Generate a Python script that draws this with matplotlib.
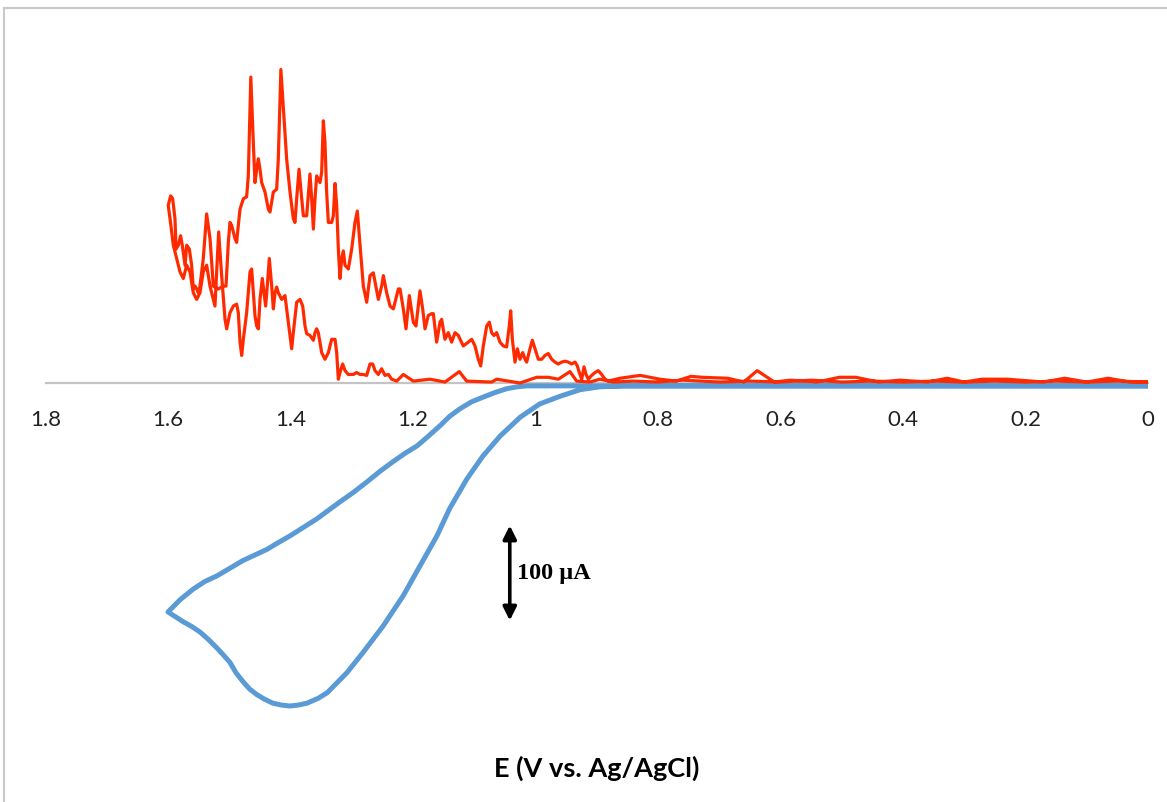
"""ECL / cyclic voltammogram overlay, redrawn with matplotlib."""

import matplotlib
matplotlib.use("Agg")
import matplotlib.pyplot as plt
from matplotlib.patches import Rectangle

# ---- data --------------------------------------------------------------
# CV current, uA (negative = anodic as plotted), forward scan 0 -> 1.6 V
cv_fwd_E = [0.000, 0.200, 0.400, 0.600, 0.802, 0.857, 0.895, 0.927, 0.960,
            0.993, 1.025, 1.058, 1.086, 1.112, 1.140, 1.161, 1.189, 1.216,
            1.249, 1.282, 1.308, 1.340, 1.355, 1.373, 1.387, 1.401, 1.415,
            1.429, 1.442, 1.455, 1.467, 1.478, 1.489, 1.499, 1.510, 1.520,
            1.534, 1.548, 1.562, 1.576, 1.588, 1.600]
cv_fwd_I = [-3, -3, -3, -3, -3, -3, -4, -7, -14,
            -22, -36, -56, -77, -101, -132, -161, -193, -224,
            -256, -284, -305, -326, -332, -337, -339, -340, -339,
            -337, -333, -328, -322, -314, -305, -294, -286, -279,
            -270, -262, -256, -251, -246, -241]
# reverse scan 1.6 -> 0 V
cv_rev_E = [1.600, 1.580, 1.559, 1.540, 1.520, 1.499, 1.478, 1.458, 1.438,
            1.420, 1.401, 1.379, 1.357, 1.338, 1.319, 1.297, 1.275, 1.254,
            1.233, 1.213, 1.193, 1.175, 1.156, 1.140, 1.123, 1.105, 1.086,
            1.066, 1.047, 1.030, 1.014, 0.976, 0.900, 0.600, 0.300, 0.000]
cv_rev_I = [-241, -228, -217, -209, -203, -195, -187, -181, -175,
            -168, -161, -152, -143, -134, -125, -115, -104, -93,
            -83, -74, -66, -56, -45, -35, -27, -20, -15,
            -10, -6, -4, -3, -3, -3, -3, -3, -3]

# ECL intensity (a.u., drawn on the same axis), forward scan
ecl_fwd_E = [0.000, 0.030, 0.065, 0.100, 0.136, 0.170, 0.230, 0.271, 0.300,
             0.328, 0.360, 0.405, 0.440, 0.477, 0.504, 0.540, 0.584, 0.610,
             0.638, 0.660, 0.686, 0.728, 0.746, 0.770, 0.797, 0.829, 0.862,
             0.8811, 0.8865, 0.8920, 0.8975, 0.9029, 0.9083, 0.9138, 0.9175,
             0.9208, 0.9246, 0.9285, 0.9317, 0.9355, 0.9410, 0.9464, 0.9518,
             0.9573, 0.9628, 0.9682, 0.9736, 0.9791, 0.9845, 0.9899, 0.9954,
             1.0008, 1.0052, 1.0090, 1.0144, 1.0171, 1.0209, 1.0253, 1.0296,
             1.0335, 1.0378, 1.0405, 1.0428, 1.0471, 1.0526, 1.0580, 1.0634,
             1.0678, 1.0716, 1.0754, 1.0797, 1.0852, 1.0895, 1.0934, 1.0988,
             1.1042, 1.1097, 1.1179, 1.1260, 1.1314, 1.1369, 1.1424, 1.1478,
             1.1532, 1.1559, 1.1614, 1.1668, 1.1696, 1.1750, 1.1804, 1.1842,
             1.1886, 1.1951, 1.1995, 1.2060, 1.2114, 1.2158, 1.2212,
             1.2239, 1.2321, 1.2375, 1.2430, 1.2484, 1.2512, 1.2566, 1.2648,
             1.2702, 1.2756, 1.2811, 1.2865, 1.2909, 1.2947, 1.3001, 1.3056,
             1.3110, 1.3137, 1.3164, 1.3192, 1.3219, 1.3246, 1.3273, 1.3301,
             1.3328, 1.3382, 1.3410, 1.3437, 1.3464, 1.3491, 1.3518, 1.3573,
             1.3600, 1.3627, 1.3654, 1.3682, 1.3736, 1.3790, 1.3817, 1.3861,
             1.3899, 1.3927, 1.3954, 1.4008, 1.4063, 1.4117, 1.4157, 1.4199,
             1.4226, 1.4280, 1.4335, 1.4362, 1.4416, 1.4471, 1.4498, 1.4525,
             1.4552, 1.4580, 1.4607, 1.4648, 1.4689, 1.4716, 1.4770, 1.4824,
             1.4852, 1.4879, 1.4906, 1.4961, 1.4988, 1.5015, 1.5053, 1.5097,
             1.5178, 1.5260, 1.5314, 1.5369, 1.5424, 1.5478, 1.5505, 1.5532,
             1.5559, 1.5587, 1.5614, 1.5652, 1.5695, 1.5722, 1.5767, 1.5794,
             1.5832, 1.5869, 1.5886, 1.5924, 1.5957, 1.5996]
ecl_fwd_I = [1, 1, 5, 1, 5, 1, 4, 4, 1,
             5, 1, 3, 1, 6, 6, 1, 3, 1,
             13, 1, 5, 6, 7, 2, 4, 8, 5,
             2, 4, 9, 13, 11, 8, 4, 9,
             17, 4, 11, 18, 22, 20, 22, 23,
             22, 20, 22, 25, 31, 29, 25, 25,
             36, 45, 36, 22, 25, 32, 25, 36,
             22, 46, 76, 60, 38, 39, 43, 53,
             50, 53, 64, 60, 39, 18, 25, 39,
             46, 43, 39, 50, 53, 43, 53, 46,
             67, 64, 43, 73, 73, 71, 57, 78,
             97, 60, 64, 92, 57, 78, 99,
             99, 78, 81, 95, 113, 102, 88, 116,
             113, 85, 102, 145, 181, 169, 141, 120,
             124, 139, 131, 110, 141, 187, 210, 176,
             169, 169, 201, 253, 276, 222, 211, 218,
             194, 162, 194, 220, 176, 176, 194, 225,
             194, 169, 173, 201, 236, 289, 330, 236,
             204, 201, 180, 183, 201, 211, 225, 236,
             225, 211, 253, 322, 218, 196, 194, 183,
             166, 148, 152, 166, 169, 148, 102, 102,
             99, 102, 152, 178, 131, 102, 95, 99,
             102, 99, 124, 141, 145, 124, 145, 155,
             145, 141, 173, 194, 197, 187]
# ECL intensity, reverse scan
ecl_rev_E = [1.5996, 1.5967, 1.5913, 1.5859, 1.5804, 1.5750, 1.5695, 1.5641,
             1.5587, 1.5532, 1.5478, 1.5424, 1.5369, 1.5314, 1.5233, 1.5173,
             1.5124, 1.5069, 1.5042, 1.4988, 1.4933, 1.4879, 1.4852, 1.4824,
             1.4797, 1.4770, 1.4716, 1.4661, 1.4634, 1.4607, 1.4580, 1.4552,
             1.4525, 1.4498, 1.4460, 1.4433, 1.4406, 1.4379, 1.4346, 1.4307,
             1.4280, 1.4253, 1.4226, 1.4199, 1.4144, 1.4090, 1.4036, 1.3981,
             1.3954, 1.3899, 1.3845, 1.3801, 1.3763, 1.3736, 1.3682, 1.3627,
             1.3600, 1.3573, 1.3546, 1.3491, 1.3437, 1.3382, 1.3328, 1.3273,
             1.3246, 1.3219, 1.3192, 1.3148, 1.3110, 1.3056, 1.2974, 1.2920,
             1.2865, 1.2811, 1.2756, 1.2702, 1.2658, 1.2620, 1.2566, 1.2512,
             1.2457, 1.2402, 1.2348, 1.2266, 1.2158, 1.1995, 1.1723, 1.1478,
             1.1244, 1.1124, 1.0716, 1.0634, 1.0253, 0.9981, 0.9791, 0.9628,
             0.9437, 0.9328, 0.9110, 0.8948, 0.8730, 0.840, 0.800, 0.760,
             0.700, 0.650, 0.600, 0.550, 0.500, 0.450, 0.400, 0.350,
             0.300, 0.250, 0.200, 0.150, 0.100, 0.050, 0.000]
ecl_rev_I = [187, 173, 145, 131, 117, 110, 124, 117,
             95, 88, 95, 117, 124, 102, 81, 159,
             113, 67, 57, 74, 81, 83, 74, 43,
             29, 46, 74, 117, 120, 95, 71, 60,
             57, 88, 110, 95, 81, 102, 131, 102,
             78, 95, 101, 95, 88, 92, 64, 36,
             53, 85, 88, 81, 60, 52, 50, 45,
             53, 57, 53, 32, 25, 32, 46, 46,
             32, 4, 11, 20, 13, 9, 9, 11,
             9, 9, 8, 20, 20, 13, 9, 15,
             8, 9, 4, 2, 9, 2, 4, 1,
             12, 2, 1, 4, 0, 6, 6, 4,
             12, 2, 1, 4, 1, 2, 1, 3,
             1, 2, 1, 3, 1, 2, 1, 2,
             1, 2, 1, 2, 1, 2, 1]

x_ticks = [1.8, 1.6, 1.4, 1.2, 1.0, 0.8, 0.6, 0.4, 0.2, 0.0]
x_tick_labels = ["1.8", "1.6", "1.4", "1.2", "1", "0.8", "0.6", "0.4", "0.2", "0"]
scale_bar = 100  # uA
scale_bar_E = 1.042
scale_bar_top = -150

BLUE = "#5B9BD5"
RED = "#FF2A00"
GRID_GREY = "#C4C4C4"


def main():
    W, H = 1167, 803
    fig = plt.figure(figsize=(W / 100, H / 100), dpi=100)
    ax = fig.add_axes([45.5 / W, (H - 783) / H, 1102.5 / W, 779 / H])

    ax.plot(cv_fwd_E + cv_rev_E, cv_fwd_I + cv_rev_I, color=BLUE, lw=3.6,
            solid_joinstyle="round", solid_capstyle="round", zorder=3)
    ax.plot(ecl_fwd_E + ecl_rev_E, ecl_fwd_I + ecl_rev_I, color=RED, lw=2.3,
            solid_joinstyle="round", zorder=4)

    ax.set_xlim(1.8, 0)
    ax.set_ylim(-420, 400)

    for side in ("top", "right", "left"):
        ax.spines[side].set_visible(False)
    ax.spines["bottom"].set_position(("data", 0))
    ax.spines["bottom"].set_color(GRID_GREY)
    ax.spines["bottom"].set_linewidth(1.6)
    ax.spines["bottom"].set_zorder(1)
    ax.set_yticks([])
    ax.set_xticks(x_ticks)
    ax.set_xticklabels(x_tick_labels, family="Lato", fontsize=16, color="#222222")
    ax.tick_params(axis="x", length=0, pad=19)
    ax.patch.set_visible(False)

    # 100 uA scale bar
    ax.annotate("", xy=(scale_bar_E, scale_bar_top), xytext=(scale_bar_E, scale_bar_top - scale_bar),
                arrowprops=dict(arrowstyle="<|-|>", color="black", lw=2.6,
                                mutation_scale=20, shrinkA=0, shrinkB=0))
    ax.text(scale_bar_E - 0.012, scale_bar_top - scale_bar / 2, "100 \u00b5A",
            family="Liberation Serif", fontweight="bold", fontsize=17.5,
            ha="left", va="center")

    fig.text(597 / W, 1 - 768 / H, "E (V vs. Ag/AgCl)", family="Lato",
             fontweight="bold", fontsize=19.5, ha="center", va="center")

    # chart border (only top and left edges are inside the crop)
    fig.add_artist(Rectangle((4 / W, -0.05), 1.2, (H - 9) / H + 0.05,
                             transform=fig.transFigure, fill=False,
                             ec="#C8C8C8", lw=1.5))

    fig.savefig("out.png", dpi=100)
    plt.close(fig)


if __name__ == "__main__":
    main()
